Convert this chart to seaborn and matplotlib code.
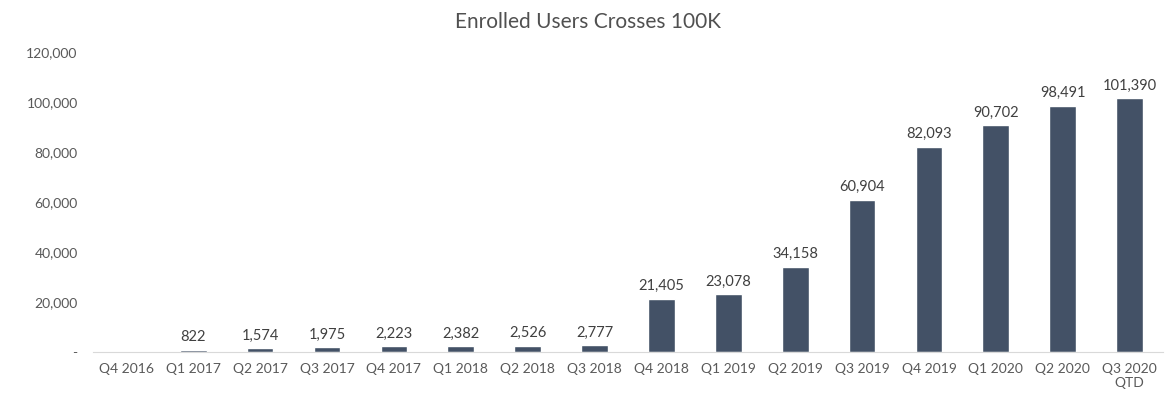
import numpy as np
import pandas as pd
import seaborn as sns
import matplotlib.pyplot as plt
from matplotlib.ticker import FuncFormatter

quarters = ["Q4 2016", "Q1 2017", "Q2 2017", "Q3 2017", "Q4 2017", "Q1 2018",
            "Q2 2018", "Q3 2018", "Q4 2018", "Q1 2019", "Q2 2019", "Q3 2019",
            "Q4 2019", "Q1 2020", "Q2 2020", "Q3 2020\nQTD"]
users = [0, 822, 1574, 1975, 2223, 2382, 2526, 2777, 21405, 23078, 34158,
         60904, 82093, 90702, 98491, 101390]

df = pd.DataFrame({"quarter": quarters, "users": users})

sns.set_style("white")
plt.rcParams['font.family'] = ['Lato', 'DejaVu Sans']

fig = plt.figure(figsize=(11.76, 3.96), dpi=100)
ax = fig.add_axes([0.079, 0.111, 0.910, 0.758])

sns.barplot(data=df, x="quarter", y="users", color="#435166",
            width=0.4, saturation=1, ax=ax)

# value labels above bars (Q4 2016 has none)
for i, v in enumerate(users):
    if v > 0:
        ax.text(i, v + 2200, f"{v:,}", ha="center", va="bottom",
                fontsize=10.5, color="#404040")

ax.set_ylim(0, 120000)
ax.set_yticks(np.arange(0, 120001, 20000))
ax.yaxis.set_major_formatter(FuncFormatter(lambda v, p: "-" if v == 0 else f"{int(v):,}"))
ax.tick_params(axis="both", length=0, labelsize=10, colors="#595959")
ax.tick_params(axis="y", pad=11)
ax.tick_params(axis="x", pad=8)
ax.set_xlim(-0.5, len(quarters) - 0.5)
ax.set_xlabel("")
ax.set_ylabel("")

for s in ["top", "right", "left"]:
    ax.spines[s].set_visible(False)
ax.spines["bottom"].set_color("#d9d9d9")

fig.suptitle("Enrolled Users Crosses 100K", y=0.97, fontsize=15, color="#505050")

plt.savefig("out.png", dpi=100)
plt.close()
